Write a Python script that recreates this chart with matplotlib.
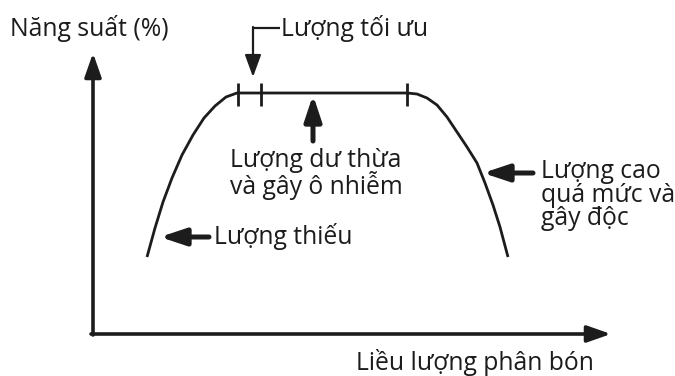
import matplotlib
matplotlib.use("Agg")
import matplotlib.pyplot as plt

plt.rcParams['font.family'] = ['Open Sans', 'DejaVu Sans']

# Curve points (dose, yield), in picture units (y downward)
rise_x = [147, 155, 163, 172, 182, 193, 204, 215, 226, 237]
rise_y = [257, 228, 202, 178, 155, 135, 118, 106, 97, 93]
plateau_x = [237, 407]
plateau_y = [93, 93]
fall_x = [407, 417, 427, 437, 447, 457, 467, 477, 485, 493, 500, 508]
fall_y = [93, 94, 98, 105, 117, 132, 147, 163, 183, 205, 227, 257]
tick_x = [238, 261, 407]
tick_y0, tick_y1 = 83, 106

labels = {
    'yaxis': "Năng suất (%)",
    'xaxis': "Liều lượng phân bón",
    'optimal': "Lượng tối ưu",
    'excess': "Lượng dư thừa\nvà gây ô nhiễm",
    'deficit': "Lượng thiếu",
    'toxic': "Lượng cao\nquá mức và\ngây độc",
}

INK = '#1c1c1c'
fig = plt.figure(figsize=(6.75, 3.76), dpi=100)
ax = fig.add_axes([0, 0, 1, 1])
ax.set_xlim(0, 675)
ax.set_ylim(376, 0)
ax.axis('off')

# Axes arrows
axis_style = dict(arrowstyle='-|>,head_length=0.8,head_width=0.28', lw=2.6,
                  color=INK, mutation_scale=18, shrinkA=0, shrinkB=0)
ax.annotate('', xy=(93, 53), xytext=(93, 335), arrowprops=axis_style)
ax.annotate('', xy=(611, 334), xytext=(91, 334), arrowprops=axis_style)

# Curve
ax.plot(rise_x + plateau_x + fall_x, rise_y + plateau_y + fall_y,
        color=INK, lw=2.0, solid_capstyle='butt', solid_joinstyle='round')
for tx in tick_x:
    ax.plot([tx, tx], [tick_y0, tick_y1], color=INK, lw=2.0, solid_capstyle='butt')

# Pointer arrows
ptr = dict(arrowstyle='-|>,head_length=0.9,head_width=0.3', lw=3.6,
           color=INK, mutation_scale=17, shrinkA=0, shrinkB=0)
ax.annotate('', xy=(160, 237), xytext=(209, 237), arrowprops=ptr)
ax.annotate('', xy=(313, 95), xytext=(313, 141), arrowprops=ptr)
ax.annotate('', xy=(483, 173), xytext=(533, 173), arrowprops=ptr)
# Optimal bracket arrow
ax.plot([280, 253], [28, 28], color=INK, lw=1.6, solid_capstyle='butt')
ax.annotate('', xy=(253, 77), xytext=(253, 27),
            arrowprops=dict(arrowstyle='-|>,head_length=0.9,head_width=0.33', lw=1.6,
                            color=INK, mutation_scale=15, shrinkA=0, shrinkB=0))

fs = 17.8
ax.text(10, 29, labels['yaxis'], fontsize=fs, color=INK, ha='left', va='center')
ax.text(281, 28, labels['optimal'], fontsize=fs, color=INK, ha='left', va='center')
ax.text(230, 174, labels['excess'], fontsize=fs, color=INK, ha='left', va='center',
        linespacing=0.94)
ax.text(214, 237, labels['deficit'], fontsize=fs, color=INK, ha='left', va='center')
ax.text(541, 195, labels['toxic'], fontsize=fs, color=INK, ha='left', va='center',
        linespacing=0.94)
ax.text(356, 362, labels['xaxis'], fontsize=fs, color=INK, ha='left', va='center')

fig.savefig('out.png', dpi=100)
